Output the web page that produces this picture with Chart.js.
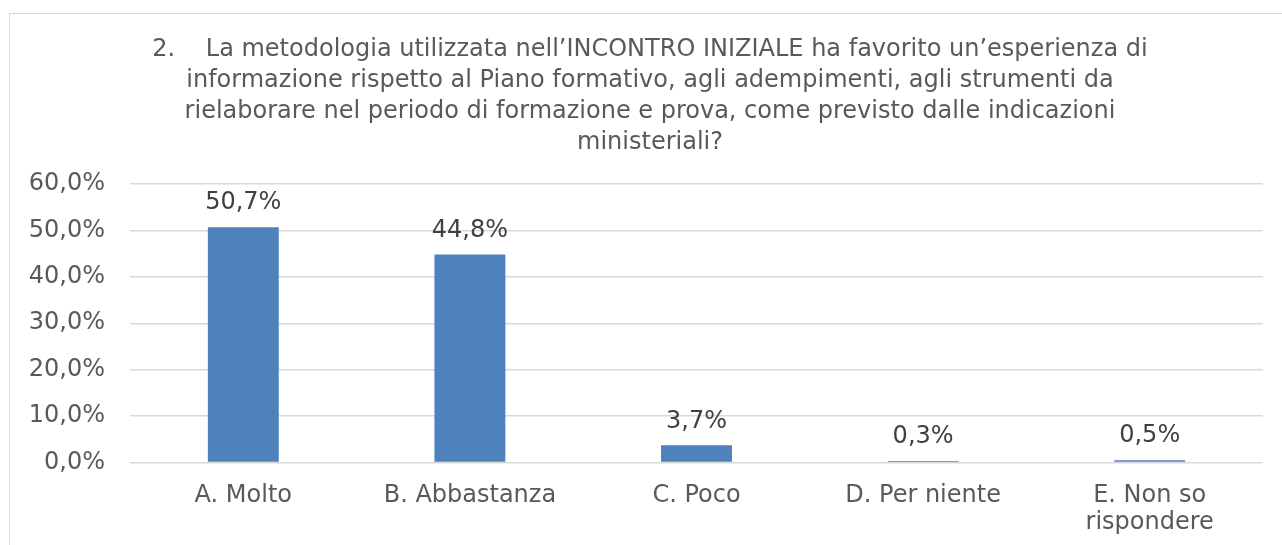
<!DOCTYPE html>
<html>
<head>
<meta charset="utf-8">
<script src="https://cdn.jsdelivr.net/npm/chart.js@4.4.1/dist/chart.umd.min.js"></script>
<style>
  body { margin: 0; background: #fff; overflow: hidden; }
  #box { position: absolute; left: 9px; top: 13px; width: 1300px; height: 600px; border: 1px solid #d9d9d9; }
  #wrap { position: absolute; left: 0; top: 0; width: 1282px; height: 545px; }
</style>
</head>
<body>
<div id="box"></div>
<div id="wrap"><canvas id="chart" width="1282" height="545"></canvas></div>
<script>
// dati del grafico
const titleLines = [
    "2.    La metodologia utilizzata nell\u2019INCONTRO INIZIALE ha favorito un\u2019esperienza di",
    "informazione rispetto al Piano formativo, agli adempimenti, agli strumenti da",
    "rielaborare nel periodo di formazione e prova, come previsto dalle indicazioni",
    "ministeriali?"
];
const categories = [
    "A. Molto",
    "B. Abbastanza",
    "C. Poco",
    "D. Per niente",
    ["E. Non so", "rispondere"]
];
const percentages = [50.7, 44.8, 3.7, 0.3, 0.5];
const yTicks = [0, 10, 20, 30, 40, 50, 60];

const fmt = v => v.toFixed(1).replace('.', ',') + '%';

// titolo centrato sul riquadro (non sul canvas)
const titleBlock = {
    id: 'titleBlock',
    afterDraw(chart) {
        const ctx = chart.ctx;
        ctx.save();
        ctx.font = '24px "DejaVu Sans"';
        ctx.fillStyle = '#595959';
        ctx.textAlign = 'center';
        ctx.textBaseline = 'middle';
        titleLines.forEach((line, i) => {
            ctx.fillText(line, 650, 50 + i * 31);
        });
        ctx.restore();
    }
};

// etichette sopra le barre
const valueLabels = {
    id: 'valueLabels',
    afterDatasetsDraw(chart) {
        const ctx = chart.ctx;
        const meta = chart.getDatasetMeta(0);
        ctx.save();
        ctx.font = '24px "DejaVu Sans"';
        ctx.fillStyle = '#404040';
        ctx.textAlign = 'center';
        ctx.textBaseline = 'middle';
        meta.data.forEach((bar, i) => {
            ctx.fillText(fmt(percentages[i]), bar.x, bar.y - 24);
        });
        ctx.restore();
    }
};

new Chart(document.getElementById('chart').getContext('2d'), {
    type: 'bar',
    data: {
        labels: categories,
        datasets: [{
            data: percentages,
            backgroundColor: '#4f81bd',
            borderWidth: 0,
            barPercentage: 0.313,
            categoryPercentage: 1
        }]
    },
    options: {
        responsive: false,
        animation: false,
        layout: { padding: { left: 0, right: 19, top: 184, bottom: 0 } },
        plugins: {
            legend: { display: false },
            tooltip: { enabled: false },
            title: { display: false }
        },
        scales: {
            x: {
                grid: { display: false },
                border: { display: false },
                ticks: {
                    color: '#595959',
                    font: { family: '"DejaVu Sans"', size: 24, lineHeight: 27 / 24 },
                    padding: 12,
                    maxRotation: 0,
                    autoSkip: false
                },
                afterFit(scale) { scale.height = 82.5; }
            },
            y: {
                min: 0,
                max: 60,
                afterBuildTicks(scale) { scale.ticks = yTicks.map(v => ({ value: v })); },
                grid: { color: '#d9d9d9', lineWidth: 1.5, drawTicks: false },
                border: { display: false },
                ticks: {
                    color: '#595959',
                    font: { family: '"DejaVu Sans"', size: 24 },
                    padding: 25,
                    callback: v => fmt(v)
                },
                afterFit(scale) { scale.width = 130; }
            }
        }
    },
    plugins: [valueLabels, titleBlock]
});
</script>
</body>
</html>
